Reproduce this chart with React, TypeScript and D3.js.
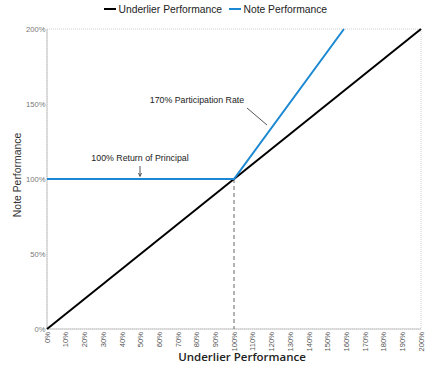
import React from 'react';
import { scaleLinear, line, range } from 'd3';

const xTicks = range(0, 201, 10);
const yTicks = [0, 50, 100, 150, 200];
const underlierX = [0, 200];
const underlierY = [0, 200];
const noteX = [0, 100, 158.8];
const noteY = [100, 100, 200];

const W = 428, H = 365;
const margin = { top: 29, right: 7, bottom: 36, left: 47 };

export default function App() {
  const x = scaleLinear().domain([0, 200]).range([margin.left, W - margin.right]);
  const y = scaleLinear().domain([0, 200]).range([H - margin.bottom, margin.top]);
  const path = line<number[]>().x(d => x(d[0])).y(d => y(d[1]));
  const under = underlierX.map((v, i) => [v, underlierY[i]]);
  const note = noteX.map((v, i) => [v, noteY[i]]);
  const font = "'Liberation Sans', Arial, sans-serif";
  const blue = '#1a88d2';

  return (
    <svg width={W} height={H} style={{ position: 'absolute', left: 0, top: 0, background: '#fff' }}>
      {/* legend */}
      <g fontFamily={font} fontSize={10.3} fill="#222">
        <line x1={104} x2={116} y1={9} y2={9} stroke="#000" strokeWidth={2} />
        <text x={118.5} y={12.5}>Underlier Performance</text>
        <line x1={229} x2={241} y1={9} y2={9} stroke={blue} strokeWidth={2} />
        <text x={243.5} y={12.5}>Note Performance</text>
      </g>

      {/* frame */}
      <rect x={x(0)} y={y(200)} width={x(200) - x(0)} height={y(0) - y(200)}
        fill="none" stroke="#cfcfcf" strokeDasharray="1,1" />
      <line x1={x(0)} x2={x(0)} y1={y(0)} y2={y(200)} stroke="#c4c4c4" />
      <line x1={x(0)} x2={x(200)} y1={y(0)} y2={y(0)} stroke="#c4c4c4" />

      {/* y ticks */}
      {yTicks.map(t => (
        <text key={t} x={x(0) - 1.5} y={y(t) + 2.7} textAnchor="end" fontFamily={font} fontSize={7.6} fill="#777">{t}%</text>
      ))}
      {/* x ticks */}
      {xTicks.map(t => (
        <text key={t} transform={`translate(${x(t) + 2.7},${y(0) + 3}) rotate(-90)`} textAnchor="end"
          fontFamily={font} fontSize={7.6} fill="#555">{t}%</text>
      ))}

      {/* axis titles */}
      <text x={242} y={361} textAnchor="middle" fontFamily="'Open Sans', sans-serif" fontWeight={600} fontSize={11.5} fill="#222">Underlier Performance</text>
      <text transform={`translate(21,175) rotate(-90)`} textAnchor="middle" fontFamily={font} fontSize={10.4} fill="#333">Note Performance</text>

      {/* dashed drop line */}
      <line x1={x(100)} x2={x(100)} y1={y(100)} y2={y(0)} stroke="#666" strokeDasharray="4,3" />

      <path d={path(under) || ''} fill="none" stroke="#000" strokeWidth={2} />
      <path d={path(note) || ''} fill="none" stroke={blue} strokeWidth={2} />

      {/* annotations */}
      <g fontFamily={font} fontSize={8.8} fill="#222">
        <text x={140} y={161} textAnchor="middle">100% Return of Principal</text>
        <line x1={140} x2={140} y1={166} y2={176} stroke="#555" />
        <path d="M138.5,173 L140,176.5 L141.5,173" fill="none" stroke="#555" />
        <text x={197} y={103} textAnchor="middle">170% Participation Rate</text>
        <line x1={247} x2={267} y1={108} y2={125} stroke="#555" />
      </g>
    </svg>
  );
}
